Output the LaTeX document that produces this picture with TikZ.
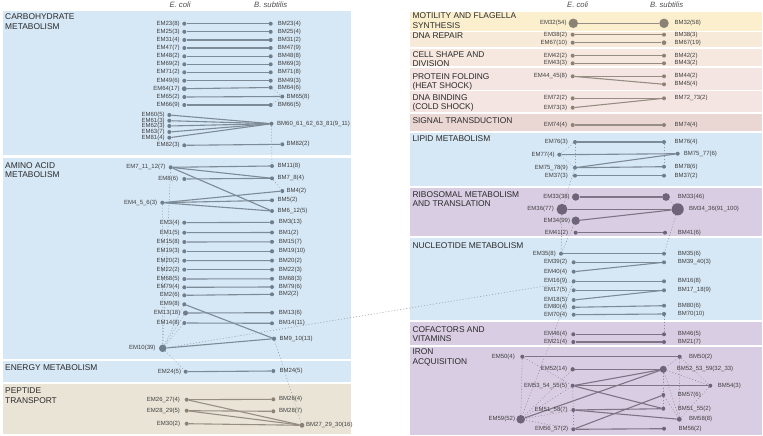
\documentclass[tikz,border=0pt]{standalone}
\usepackage{fontspec}
\setmainfont{Liberation Sans}
\usetikzlibrary{backgrounds}
\definecolor{bgblue}{HTML}{D6E7F5}
\definecolor{bgsand}{HTML}{EAE4D7}
\definecolor{bgyellow}{HTML}{FBEFCE}
\definecolor{bgpeach}{HTML}{F8EAD8}
\definecolor{bgblush}{HTML}{F6E8DF}
\definecolor{bgrose}{HTML}{F4E5E2}
\definecolor{bgmauve}{HTML}{EAD7D3}
\definecolor{bglilac}{HTML}{D9CDE3}
\definecolor{dotblue}{HTML}{6E7E8C}
\definecolor{dotsand}{HTML}{8B8275}
\definecolor{dotlilac}{HTML}{6E6479}
\definecolor{txtdark}{HTML}{2B2B2B}

\begin{document}
\begin{tikzpicture}[x=1pt,y=-1pt,
  sect/.style={font=\fontsize{8.4}{9.6}\selectfont, text=txtdark, anchor=north west, align=left, inner sep=0pt},
  head/.style={font=\fontsize{7.7}{9}\selectfont\itshape, text=txtdark!85},
  gene/.style={circle, inner sep=0pt, fill=#1},
  glab/.style={font=\fontsize{6}{7}\selectfont, text=txtdark!90, inner sep=0pt},
  link/.style={draw=#1!90, line width=1.1pt},
  share/.style={draw=#1!75, line width=0.6pt, dash pattern=on 0.6pt off 2.4pt, line cap=round},
]
\useasboundingbox (0,0) rectangle (763,436);
% category panels, y in px from top
\begin{scope}[on background layer]
\foreach \xa/\xb/\ya/\yb/\col in {
  2.7/351/11/155/bgblue, 2.7/351/158/359/bgblue, 2.7/351/361/382.3/bgblue, 2.7/351/384.3/434/bgsand,
  410/762/11.7/30.7/bgyellow, 410/762/31.7/47.3/bgpeach, 410/762/48.7/66.3/bgblush,
  410/762/67.7/90.3/bgrose, 410/762/91.3/111.7/bgrose, 410/762/114/131/bgmauve,
  410/762/133/186/bgblue, 410/762/188/236/bglilac, 410/762/238.3/320/bgblue,
  410/762/322/345/bglilac, 410/762/347.3/435/bglilac}
  \fill[fill=\col] (\xa,\ya) rectangle (\xb,\yb);
\end{scope}

\node[head] (ecA) at (180,5) {E. coli};
\node[head] (bsA) at (270.7,5) {B. subtilis};
\node[head] (ecB) at (577.7,5) {E. coli};
\node[head] (bsB) at (666.7,5) {B. subtilis};

\node[sect] (carb) at (5,13.7) {CARBOHYDRATE\\METABOLISM};
\node[sect] (amino) at (5,162) {AMINO ACID\\METABOLISM};
\node[sect] (energy) at (5,364.7) {ENERGY METABOLISM};
\node[sect] (pept) at (5,387.7) {PEPTIDE\\TRANSPORT};
\node[sect] (motil) at (412.3,12.7) {MOTILITY AND FLAGELLA\\SYNTHESIS};
\node[sect] (dnarep) at (412.3,33) {DNA REPAIR};
\node[sect] (shape) at (412.3,51) {CELL SHAPE AND\\DIVISION};
\node[sect] (fold) at (412.3,73.3) {PROTEIN FOLDING\\(HEAT SHOCK)};
\node[sect] (bind) at (412.3,94.3) {DNA BINDING\\(COLD SHOCK)};
\node[sect] (signal) at (412.3,117) {SIGNAL TRANSDUCTION};
\node[sect] (lipid) at (412.3,135.7) {LIPID METABOLISM};
\node[sect] (ribo) at (412.3,191.3) {RIBOSOMAL METABOLISM\\AND TRANSLATION};
\node[sect] (nucl) at (412.3,242) {NUCLEOTIDE METABOLISM};
\node[sect] (cofac) at (412.3,326) {COFACTORS AND\\VITAMINS};
\node[sect] (iron) at (412.3,348.7) {IRON\\ACQUISITION};

% E. coli clusters: name/x/y/diameter/label offset/colour/label
\foreach \n/\x/\y/\dia/\off/\col/\lab in {
  e23/184.3/23.7/3.3/4.5/dotblue/EM23(8), e25/184.3/31.8/3.3/4.5/dotblue/EM25(3),
  e31/184.3/40/3.3/4.5/dotblue/EM31(4), e47/184.3/48/3.3/4.5/dotblue/EM47(7),
  e48/184.3/56.3/3.3/4.5/dotblue/EM48(2), e69/184.3/64.3/3.3/4.5/dotblue/EM69(2),
  e71/184.3/72.3/3.3/4.5/dotblue/EM71(2), e49/184.3/80.7/3.3/4.5/dotblue/EM49(6),
  e64/184.3/88.7/4.4/4.5/dotblue/EM64(17), e65/184.3/97/3.3/4.5/dotblue/EM65(2),
  e66/184.3/105/3.3/4.5/dotblue/EM66(9), e60/169.3/115/3.3/4.5/dotblue/EM60(5),
  e61/169.3/120.7/3.3/4.5/dotblue/EM61(3), e62/169.3/126/3.3/4.5/dotblue/EM62(3),
  e63/169.3/132/3.3/4.5/dotblue/EM63(7), e81/169.3/137.7/3.3/4.5/dotblue/EM81(4),
  e82/184.3/145.3/3.3/4.5/dotblue/EM82(3),
  e7/170.7/167.3/3.3/5/dotblue/EM7\_11\_12(7), e8/184.3/179/3.3/6/dotblue/EM8(6),
  e4/162.3/202.7/3.3/5/dotblue/EM4\_5\_6(3), e3/184.3/222.7/3.3/4.5/dotblue/EM3(4),
  e1/184.3/232.7/3.3/4.5/dotblue/EM1(5), e15/184.3/242/3.3/4.5/dotblue/EM15(8),
  e19/184.3/251.3/3.3/4.5/dotblue/EM19(3), e20/184.3/260.7/3.3/4.5/dotblue/EM20(2),
  e22/184.3/269.7/3.3/4.5/dotblue/EM22(2), e68/184.3/279/3.3/4.5/dotblue/EM68(5),
  e79/184.3/287.3/3.3/4.5/dotblue/EM79(4), e2/184.3/295.3/3.3/4.5/dotblue/EM2(6),
  e9/184.3/304.3/3.3/4.5/dotblue/EM9(8), e13/185.5/313/4.6/5/dotblue/EM13(18),
  e14/184.3/323/3.3/4.5/dotblue/EM14(8), e10/162.7/348.3/6.8/7/dotblue/EM10(39),
  e24/185.7/371.7/3.3/4.5/dotblue/EM24(5),
  e26/186.7/399.7/3.3/6.5/dotsand/EM26\_27(4), e28/186.7/410.7/3.3/6.5/dotsand/EM28\_29(5),
  e30/186.7/423.7/3.3/6.5/dotsand/EM30(2),
  e32/573.3/23.3/8.6/6.6/dotsand/EM32(54), e38/572.7/34.7/3.3/5.5/dotsand/EM38(2),
  e67/572.7/42.7/3.7/5.5/dotsand/EM67(10), e42/572.7/55.7/3.3/5.5/dotsand/EM42(2),
  e43/572.7/63.3/3.3/5.5/dotsand/EM43(3), e44/572.7/76.3/3.3/5.5/dotsand/EM44\_45(8),
  e72/572.7/98.3/3.3/5.5/dotsand/EM72(2), e73/572.7/107.7/3.3/5.5/dotsand/EM73(3),
  e74/572.7/125/3.3/5.5/dotsand/EM74(4),
  e76/575/142/3.3/7/dotblue/EM76(3), e77/559.3/154.7/3.3/4.5/dotblue/EM77(4),
  e75/575/167.7/3.3/7/dotblue/EM75\_78(9), e37/575/175.7/3.3/7/dotblue/EM37(3),
  e33/575.7/197/6.8/5.8/dotlilac/EM33(38), e36/562/209.3/10/8/dotlilac/EM36(77),
  e34/575.7/220.7/7.6/5.5/dotlilac/EM34(99), e41/575.7/232.7/3.3/7.5/dotlilac/EM41(2),
  e35/561/253.7/3.3/5/dotblue/EM35(8), e39/573.7/262.3/3.3/6.4/dotblue/EM39(2),
  e40/573.7/271.7/3.3/6.4/dotblue/EM40(4), e16/573.7/281.3/3.3/6.4/dotblue/EM16(9),
  e17/573.7/290.3/3.3/6.4/dotblue/EM17(5), e18/573.7/300/3.3/6.4/dotblue/EM18(5),
  e80/573.7/307.3/3.3/6.4/dotblue/EM80(4), e70/573.7/314.7/3.3/6.4/dotblue/EM70(4),
  e46/573.3/334.3/3.3/6/dotlilac/EM46(4), e21/573.3/342/3.3/6/dotlilac/EM21(4),
  e50/522.3/356.7/3.3/7.3/dotlilac/EM50(4), e52/572.7/369.3/3.9/5.4/dotlilac/EM52(14),
  e53/572.7/385.7/3.3/5.4/dotlilac/EM53\_54\_55(5), e51/573.3/410/3.3/5.4/dotlilac/EM51\_58(7),
  e59/520.7/419.3/7.8/5.5/dotlilac/EM59(52), e56/573.3/429.3/3.3/5/dotlilac/EM56\_57(2)
} {
  \pgfmathsetmacro{\dd}{max(4,\dia*1.1)}
  \node[gene=\col, minimum size=\dd pt] (\n) at (\x,\y) {};
  \node[glab, anchor=east] (\n-t) at (\x-\off,\y) {\lab};
}

% B. subtilis clusters
\foreach \n/\x/\y/\dia/\off/\col/\lab in {
  b23/270.7/23.7/3.3/7/dotblue/BM23(4), b25/270.7/31.8/3.3/7/dotblue/BM25(4),
  b31/270.7/40/3.3/7/dotblue/BM31(2), b47/270.7/48/3.3/7/dotblue/BM47(9),
  b48/270.7/56.3/3.3/7/dotblue/BM48(8), b69/270.7/64.3/3.3/7/dotblue/BM69(3),
  b71/270.7/72.3/3.3/7/dotblue/BM71(8), b49/270.7/80.7/3.3/7/dotblue/BM49(3),
  b64/270.7/87.5/3.3/7/dotblue/BM64(6), b65/282.3/96.5/3.3/4/dotblue/BM65(8),
  b66/270.7/105/3.3/7/dotblue/BM66(5),
  b60/271.5/123.7/3.5/5.5/dotblue/BM60\_61\_62\_63\_81(9\_11), b82/282.3/144.3/3.3/4/dotblue/BM82(2),
  b11/272/166/3.3/5.5/dotblue/BM11(8), b7/272/178.3/3.3/5.5/dotblue/BM7\_8(4),
  b4/282.3/191/3.3/4/dotblue/BM4(2), b5/272/200.3/3.3/5.5/dotblue/BM5(2),
  b6/272/211/3.3/5.5/dotblue/BM6\_12(5), b3/272/222.3/3.8/6.7/dotblue/BM3(13),
  b1/272/232.5/3.3/6.7/dotblue/BM1(2), b15/272/241.8/3.3/6.7/dotblue/BM15(7),
  b19/272/251.3/3.8/6.7/dotblue/BM19(10), b20/272/260.6/3.3/6.7/dotblue/BM20(2),
  b22/272/269.7/3.3/6.7/dotblue/BM22(3), b68/272/278.8/3.3/6.7/dotblue/BM68(3),
  b79/272/287/3.3/6.7/dotblue/BM79(6), b2/272/294.3/3.3/6.7/dotblue/BM2(2),
  b13/272/312.7/3.3/6.7/dotblue/BM13(6), b14/272/323.3/3.6/6.7/dotblue/BM14(11),
  b9/274/338.7/3.9/5.3/dotblue/BM9\_10(13), b24/273.3/371/3.3/6/dotblue/BM24(5),
  b26/273.3/399.3/3.3/5.7/dotsand/BM26(4), b28/273.3/411.3/3.3/5.7/dotsand/BM28(7),
  b27/302/425.3/4.4/4/dotsand/BM27\_29\_30(16),
  b32/664/23.3/8.6/10.3/dotsand/BM32(58), b38/664/34.7/3.3/10.3/dotsand/BM38(3),
  b67/664/42.7/4.2/10.3/dotsand/BM67(19), b42/664/55.7/3.3/10.3/dotsand/BM42(2),
  b43/664/63.3/3.3/10.3/dotsand/BM43(2), b44/664/76.3/3.3/10.3/dotsand/BM44(2),
  b45/664/84.3/3.3/10.3/dotsand/BM45(4), b72/664/98.3/3.3/10.3/dotsand/BM72\_73(2),
  b74/664/125/3.3/10.3/dotsand/BM74(4),
  b76/664/142/3.3/10.3/dotblue/BM76(4), b75/677.7/153.7/3.3/6/dotblue/BM75\_77(6),
  b78/664/166.7/3.3/10.3/dotblue/BM78(6), b37/664/175.7/3.3/10.3/dotblue/BM37(2),
  b33/666/197/7/11.7/dotlilac/BM33(46), b34/677.7/209.3/11/11.3/dotlilac/BM34\_36(91\_100),
  b41/665/232.7/3.3/12.7/dotlilac/BM41(6),
  b35/664/253.7/3.3/13.7/dotblue/BM35(6), b39/664/262.3/3.3/13.7/dotblue/BM39\_40(3),
  b16/664/281.3/3.3/13.7/dotblue/BM16(8), b17/664/290.3/3.3/13.7/dotblue/BM17\_18(9),
  b80/664/305.7/3.3/13.7/dotblue/BM80(6), b70/664/314/3.8/13.7/dotblue/BM70(10),
  b46/664/334.3/3.3/13.7/dotlilac/BM46(5), b21/664/342/3.3/13.7/dotlilac/BM21(7),
  b50/679.7/356.7/3.3/9.3/dotlilac/BM50(2), b52/663.3/369.3/6.4/13.3/dotlilac/BM52\_53\_59(32\_33),
  b54/710.3/385.7/3.3/7.3/dotlilac/BM54(3), b57/663.3/395/3.3/14.3/dotlilac/BM57(6),
  b51/663.3/408.7/3.3/14.3/dotlilac/BM51\_55(2), b58/679.3/419.3/4.4/9.7/dotlilac/BM58(8),
  b56/664/428.7/3.3/14.3/dotlilac/BM56(2)
} {
  \pgfmathsetmacro{\dd}{max(4,\dia*1.1)}
  \node[gene=\col, minimum size=\dd pt] (\n) at (\x,\y) {};
  \node[glab, anchor=west] (\n-t) at (\x+\off,\y) {\lab};
}

\begin{scope}[on background layer]
% orthologous clusters
\foreach \a/\b/\col in {
  e23/b23/dotblue, e25/b25/dotblue, e31/b31/dotblue, e47/b47/dotblue, e48/b48/dotblue,
  e69/b69/dotblue, e71/b71/dotblue, e49/b49/dotblue, e64/b64/dotblue, e65/b65/dotblue,
  e66/b66/dotblue, e60/b60/dotblue, e61/b60/dotblue, e62/b60/dotblue, e63/b60/dotblue,
  e81/b60/dotblue, e82/b82/dotblue, e7/b11/dotblue, e7/b7/dotblue, e7/b6/dotblue,
  e8/b7/dotblue, e4/b4/dotblue, e4/b5/dotblue, e4/b6/dotblue, e3/b3/dotblue, e1/b1/dotblue,
  e15/b15/dotblue, e19/b19/dotblue, e20/b20/dotblue, e22/b22/dotblue, e68/b68/dotblue,
  e79/b79/dotblue, e2/b2/dotblue, e9/b9/dotblue, e13/b13/dotblue, e14/b14/dotblue,
  e10/b9/dotblue, e24/b24/dotblue,
  e26/b26/dotsand, e26/b27/dotsand, e28/b28/dotsand, e28/b27/dotsand, e30/b27/dotsand,
  e32/b32/dotsand, e38/b38/dotsand, e67/b67/dotsand, e42/b42/dotsand, e43/b43/dotsand,
  e44/b44/dotsand, e44/b45/dotsand, e72/b72/dotsand, e73/b72/dotsand, e74/b74/dotsand,
  e76/b76/dotblue, e77/b75/dotblue, e75/b75/dotblue, e75/b78/dotblue, e37/b37/dotblue,
  e35/b35/dotblue, e39/b39/dotblue, e40/b39/dotblue, e16/b16/dotblue, e17/b17/dotblue,
  e18/b17/dotblue, e80/b80/dotblue, e70/b70/dotblue,
  e33/b33/dotlilac, e36/b34/dotlilac, e34/b34/dotlilac, e41/b41/dotlilac, e46/b46/dotlilac,
  e21/b21/dotlilac, e50/b50/dotlilac, e52/b52/dotlilac, e53/b52/dotlilac, e53/b54/dotlilac,
  e53/b51/dotlilac, e59/b52/dotlilac, e51/b51/dotlilac, e51/b58/dotlilac, e56/b57/dotlilac,
  e56/b56/dotlilac}
  \draw[link=\col] (\a) -- (\b);
% shared genes between clusters
\foreach \a/\b/\col in {
  b64/b65/dotblue, b65/b66/dotblue, b60/b11/dotblue, b7/b4/dotblue, e7/e10/dotblue,
  e4/e10/dotblue, e9/e10/dotblue, e13/e10/dotblue, e14/e10/dotblue, e10/e24/dotblue,
  e10/e16/dotblue, b9/b27/dotblue, e76/e77/dotblue, e76/e75/dotblue, e77/e75/dotblue,
  e75/e36/dotblue, b76/b78/dotblue,
  e36/e35/dotlilac, e34/e35/dotlilac, b33/b34/dotlilac, b34/b35/dotlilac, e16/e59/dotlilac,
  b70/b46/dotlilac, e50/e59/dotlilac, e50/e53/dotlilac, e52/e59/dotlilac, e53/e59/dotlilac,
  e51/e59/dotlilac, e56/e59/dotlilac, e53/e51/dotlilac, e51/e56/dotlilac, b50/b52/dotlilac,
  b50/b54/dotlilac, b52/b54/dotlilac, b50/b58/dotlilac, b52/b57/dotlilac, b57/b51/dotlilac,
  b52/b58/dotlilac, b54/b58/dotlilac, b57/b58/dotlilac}
  \draw[share=\col] (\a) -- (\b);
\end{scope}
\end{tikzpicture}
\end{document}
